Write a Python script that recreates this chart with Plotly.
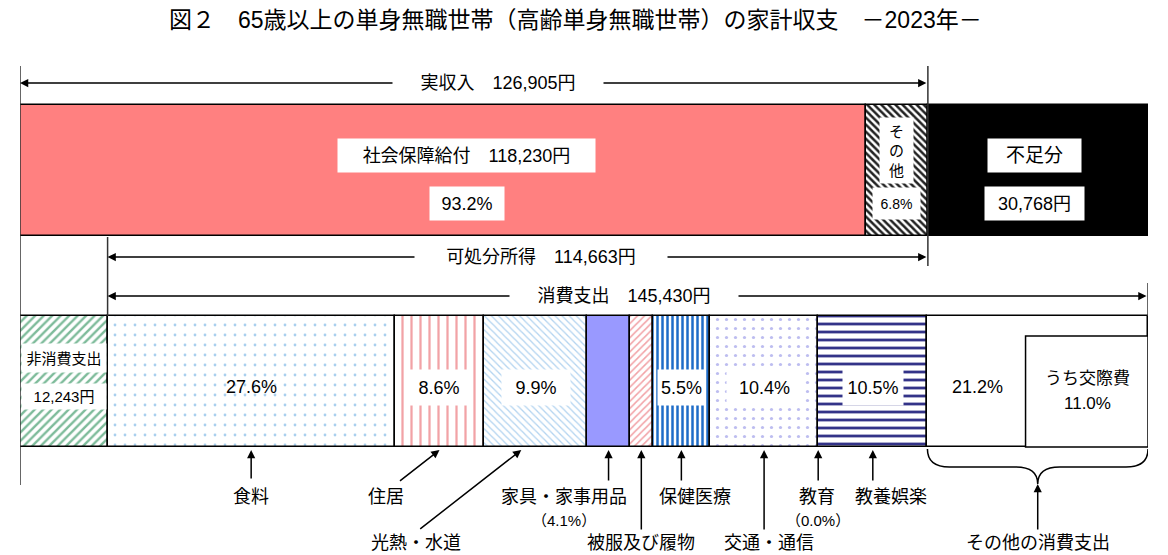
import plotly.graph_objects as go

# 家計収支データ（2023年, 65歳以上の単身無職世帯）
title = "図２　65歳以上の単身無職世帯（高齢単身無職世帯）の家計収支　－2023年－"

real_income = 126905
disposable_income = 114663
consumption_total = 145430
non_consumption = 12243
shortfall = 30768

income_labels = ["社会保障給付", "その他"]
income_values = [118230, 8675]
income_shares = [93.2, 6.8]

cons_labels = ["食料", "住居", "光熱・水道", "家具・家事用品", "被服及び履物",
               "保健医療", "交通・通信", "教育", "教養娯楽", "その他の消費支出"]
cons_shares = [27.6, 8.6, 9.9, 4.1, 2.2, 5.5, 10.4, 0.0, 10.5, 21.2]
kousai_share = 11.0

FONT = "Liberation Sans, Noto Sans CJK JP, sans-serif"
W, H = 1168, 555
LEFT, RIGHT = 20, 20
total = real_income + shortfall
scale = total / (W - LEFT - RIGHT)   # 円 per pixel


def px(d):
    # pixel offset -> data units
    return d * scale


Y_TOP, Y_BOT, BAR_H = 170.5, 381.5, 131

fig = go.Figure()


def seg(y, base, value, color="white", shape="", fg="black", size=8, solidity=0.3):
    fig.add_trace(go.Bar(
        y=[y], x=[value], base=[base], orientation="h", width=BAR_H,
        marker=dict(color=color, line=dict(color="black", width=1.5),
                    pattern=dict(shape=shape, fgcolor=fg, bgcolor=color, size=size,
                                 solidity=solidity, fillmode="replace")),
        hoverinfo="skip", showlegend=False))


# 上段：実収入 + 不足分
seg(Y_TOP, 0, income_values[0], color="#FF8080")
seg(Y_TOP, income_values[0], income_values[1], shape="\\", fg="#222222", size=5, solidity=0.5)
seg(Y_TOP, real_income, shortfall, color="black")

# 下段：非消費支出 + 消費支出
cons_values = [s / 100 * consumption_total for s in cons_shares]
cons_styles = [
    dict(shape=".", fg="#A9CFEE", size=10, solidity=0.06),
    dict(shape="|", fg="#F2A2A6", size=9, solidity=0.25),
    dict(shape="\\", fg="#B2D3F0", size=5, solidity=0.25),
    dict(color="#9999FF"),
    dict(shape="/", fg="#F2A2A6", size=5, solidity=0.3),
    dict(shape="|", fg="#1E6CC8", size=5, solidity=0.5),
    dict(shape=".", fg="#BDBDF0", size=9, solidity=0.1),
    dict(),
    dict(shape="-", fg="#333388", size=8, solidity=0.35),
    dict(),
]
seg(Y_BOT, 0, non_consumption, shape="/", fg="#7DBB9A", size=6, solidity=0.4)
starts = []
b = non_consumption
for v, st in zip(cons_values, cons_styles):
    starts.append(b)
    if v > 0:
        seg(Y_BOT, b, v, **st)
    b += v
mids = [s + v / 2 for s, v in zip(starts, cons_values)]
cons_end = b

shapes = []


def vline(x, y0, y1, w=1.5):
    shapes.append(dict(type="line", xref="x", yref="y", x0=x, x1=x, y0=y0, y1=y1,
                       line=dict(color="#333333", width=w)))


vline(0, 66, 485)
vline(real_income, 66, 266)
vline(non_consumption, 237, 316)
vline(cons_end, 283, 316)

# うち交際費の枠
shapes.append(dict(type="rect", xref="x", yref="y",
                   x0=cons_end - kousai_share / 100 * consumption_total - px(8), x1=cons_end,
                   y0=336, y1=447, line=dict(color="black", width=1.5), fillcolor="white",
                   layer="above"))

# その他の消費支出の中括弧
x0, x1 = starts[-1], cons_end
xm = (x0 + x1) / 2
d = px(22)
shapes.append(dict(
    type="path", xref="x", yref="y",
    path=(f"M {x0},449 Q {x0},467 {x0 + d},467 L {xm - d},467 Q {xm},467 {xm},484 "
          f"Q {xm},467 {xm + d},467 L {x1 - d},467 Q {x1},467 {x1},449"),
    line=dict(color="black", width=1.5)))

ann = []


def box(x, y, text, size=18, w=None, h=None, bg="white"):
    a = dict(x=x, y=y, xref="x", yref="y", text=text, showarrow=False,
             font=dict(family=FONT, size=size, color="black"), bgcolor=bg, borderpad=0)
    if w:
        a["width"] = w
    if h:
        a["height"] = h
    ann.append(a)


def arrow(xh, yh, xt, yt, both=False):
    ann.append(dict(x=xh, y=yh, ax=xt, ay=yt, xref="x", yref="y", axref="x", ayref="y",
                    text="", showarrow=True, arrowhead=2, arrowsize=1.1, arrowwidth=1.5,
                    arrowcolor="black", standoff=0, startstandoff=0,
                    arrowside="end+start" if both else "end", startarrowhead=2,
                    startarrowsize=1.1))


# 範囲矢印
arrow(0, 83, real_income, 83, both=True)
box(real_income / 2 + px(24), 83, f"実収入　{real_income:,}円", w=210, h=22)
arrow(non_consumption, 257, real_income, 257, both=True)
box(non_consumption + px(433), 257, f"可処分所得　{disposable_income:,}円", w=252, h=22)
arrow(non_consumption, 296, cons_end, 296, both=True)
box(non_consumption + px(516), 296, f"消費支出　{consumption_total:,}円", w=228, h=22)

# 上段ラベル
box(income_values[0] / 2 + px(24), 155, f"{income_labels[0]}　{income_values[0]:,}円", w=257, h=33)
box(income_values[0] / 2 + px(24), 203, f"{income_shares[0]}%", w=74, h=33)
xo = income_values[0] + income_values[1] / 2
box(xo, 150, "そ<br>の<br>他", size=15, w=33, h=65)
box(xo, 203, f"{income_shares[1]}%", size=14, w=47, h=31)
xs = real_income + shortfall / 2 - px(3)
box(xs, 155, "不足分", size=19, w=93, h=33)
box(xs, 203, f"{shortfall:,}円", w=99, h=33)

# 下段ラベル
box(non_consumption / 2, 358, "非消費支出", size=15, w=84, h=28)
box(non_consumption / 2, 396, f"{non_consumption:,}円", size=15, w=84, h=25)
pct_boxes = {0: None, 1: 58, 2: 68, 5: 47, 6: 75, 8: 60}
for i, w in pct_boxes.items():
    if w is None:
        box(mids[i], 387, f"{cons_shares[i]}%", bg="rgba(0,0,0,0)")
    else:
        box(mids[i], 387, f"{cons_shares[i]}%", w=w, h=35)
box(starts[-1] + px(50), 387, f"{cons_shares[-1]}%", bg="rgba(0,0,0,0)")
box(cons_end - px(61), 378, "うち交際費", size=17, bg="rgba(0,0,0,0)")
box(cons_end - px(61), 403, f"{kousai_share}%", size=17, bg="rgba(0,0,0,0)")

# 項目ラベルと矢印: (index, label dx, label row y, tail dx, tail y)
ROW2 = 543
label_specs = [
    (0, 0, 497, 0, 480),
    (1, -53, 497, -41, 482),
    (2, -120, ROW2, -117, 530),
    (3, -45, 497, 0, 482),
    (4, 0, ROW2, 0, 531),
    (5, 14, 497, 0, 482),
    (6, 5, ROW2, 0, 531),
    (7, -1, 497, 0, 482),
    (8, 18, 497, 0, 482),
    (9, 0, ROW2, 0, 531),
]
for i, ldx, ly, tdx, ty in label_specs:
    xh = mids[i]
    if i == 2:
        xh = starts[i] + cons_values[i] * 0.36
    yh = 484 if i == 9 else 450
    arrow(xh, yh, mids[i] + px(tdx), ty)
    box(mids[i] + px(ldx), ly, cons_labels[i], bg="rgba(0,0,0,0)")
box(mids[3] + px(-45), 520, f"（{cons_shares[3]}%）", size=15, bg="rgba(0,0,0,0)")
box(mids[7], 520, f"（{cons_shares[7]}%）", size=15, bg="rgba(0,0,0,0)")

ann.append(dict(x=0.5 + (575 - W / 2) / (W - LEFT - RIGHT), y=20, xref="paper", yref="y",
                text=title, showarrow=False, font=dict(family=FONT, size=23, color="black")))

fig.update_layout(
    width=W, height=H, margin=dict(l=LEFT, r=RIGHT, t=0, b=0),
    paper_bgcolor="white", plot_bgcolor="white", barmode="overlay", bargap=0,
    xaxis=dict(range=[0, total], visible=False, fixedrange=True),
    yaxis=dict(range=[H, 0], visible=False, fixedrange=True),
    shapes=shapes, annotations=ann, showlegend=False,
)

fig.write_html("out.html", config={"displayModeBar": False},
               post_script="document.body.style.margin='0';")
